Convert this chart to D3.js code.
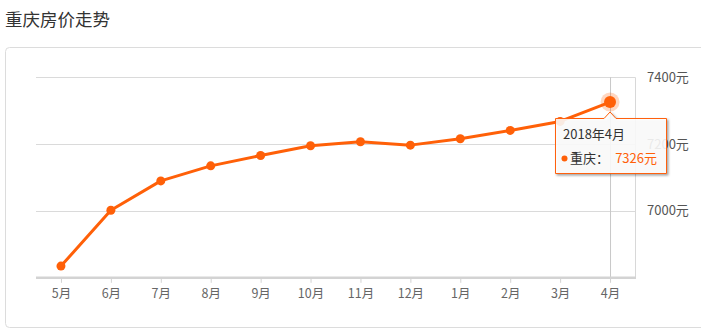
<!DOCTYPE html>
<html>
<head>
<meta charset="utf-8">
<script src="https://cdn.jsdelivr.net/npm/d3@7"></script>
<style>
  body { margin: 0; background: #fff; font-family: "Noto Sans CJK SC", "Microsoft YaHei", sans-serif; }
  svg { display: block; }
</style>
</head>
<body>
<div id="chart"></div>
<script>
'use strict'

// data
const months = ["5月","6月","7月","8月","9月","10月","11月","12月","1月","2月","3月","4月"]
const prices = [6835, 7002, 7090, 7135, 7166, 7195, 7207, 7197, 7216, 7241, 7268, 7326]
const yTicks = [7000, 7200, 7400]
const title = "重庆房价走势"
const city = "重庆"
const tipLabel = "2018年4月"

const W = 701, H = 335
const orange = "#ff6008"

const svg = d3.select("#chart").append("svg")
  .attr("width", W).attr("height", H)

// title
svg.append("text")
  .attr("x", 5).attr("y", 26)
  .attr("font-size", 17.5).attr("fill", "#333")
  .text(title)

// panel
svg.append("rect")
  .attr("x", 5.5).attr("y", 47.5)
  .attr("width", 710).attr("height", 280)
  .attr("rx", 4)
  .attr("fill", "#fff").attr("stroke", "#dcdcdc")

// plot area
const plotLeft = 36, plotRight = 635, plotTop = 77.3, plotBottom = 277.8

const x = d3.scalePoint().domain(months).range([plotLeft, plotRight]).padding(0.5)
const y = d3.scaleLinear().domain([6800, 7400]).range([plotBottom, plotTop])

// grid lines
svg.append("g").selectAll("line")
  .data(yTicks)
  .join("line")
  .attr("x1", plotLeft).attr("x2", plotRight)
  .attr("y1", d => Math.round(y(d)) + 0.5).attr("y2", d => Math.round(y(d)) + 0.5)
  .attr("stroke", "#dadada")

// right border of the plot
svg.append("line")
  .attr("x1", plotRight + 0.5).attr("x2", plotRight + 0.5)
  .attr("y1", plotTop).attr("y2", plotBottom)
  .attr("stroke", "#d8d8d8")

// y labels
svg.append("g").selectAll("text")
  .data(yTicks)
  .join("text")
  .attr("x", 647).attr("y", d => y(d) + 4.5)
  .attr("font-size", 13).attr("fill", "#555")
  .text(d => d + "元")

// crosshair on last point
const last = months.length - 1
svg.append("line")
  .attr("x1", x(months[last]) + 0.5).attr("x2", x(months[last]) + 0.5)
  .attr("y1", plotTop).attr("y2", plotBottom + 4)
  .attr("stroke", "#c8c8c8")

// x axis
const xAxis = svg.append("g")
  .attr("transform", `translate(0,${plotBottom})`)
  .call(d3.axisBottom(x).tickSize(5).tickSizeOuter(0).tickPadding(6))
xAxis.select(".domain").remove()
xAxis.append("line")
  .attr("x1", plotLeft).attr("x2", plotRight + 1)
  .attr("y1", 0).attr("y2", 0)
  .attr("stroke", "#d3d3d3").attr("stroke-width", 2.5)
xAxis.selectAll(".tick line").attr("stroke", "#d3d3d3")
xAxis.selectAll(".tick text")
  .attr("font-size", 12.5).attr("fill", "#666")
  .attr("font-family", "Noto Sans CJK SC, sans-serif")

// line
const line = d3.line()
  .x((d, i) => x(months[i]))
  .y(d => y(d))

svg.append("path")
  .datum(prices)
  .attr("d", line)
  .attr("fill", "none")
  .attr("stroke", orange)
  .attr("stroke-width", 3)
  .attr("stroke-linejoin", "round")

svg.append("g").selectAll("circle")
  .data(prices.slice(0, last))
  .join("circle")
  .attr("cx", (d, i) => x(months[i]))
  .attr("cy", d => y(d))
  .attr("r", 4.5)
  .attr("fill", orange)

// highlighted point
const px = x(months[last]), py = y(prices[last])
svg.append("circle")
  .attr("cx", px).attr("cy", py).attr("r", 9.5)
  .attr("fill", orange).attr("opacity", 0.25)
svg.append("circle")
  .attr("cx", px).attr("cy", py).attr("r", 6)
  .attr("fill", orange)

// tooltip
const tx = 555, ty = 118, tw = 111, th = 55
const defs = svg.append("defs")
const f = defs.append("filter").attr("id", "shadow")
  .attr("x", "-20%").attr("y", "-20%").attr("width", "140%").attr("height", "150%")
f.append("feDropShadow")
  .attr("dx", 1.5).attr("dy", 1.5).attr("stdDeviation", 1.2)
  .attr("flood-color", "#000").attr("flood-opacity", 0.4)

const tip = svg.append("g")
const tipPath = d3.path()
tipPath.moveTo(tx + 0.5, ty + 0.5)
tipPath.lineTo(px - 6, ty + 0.5)
tipPath.lineTo(px, ty - 6)
tipPath.lineTo(px + 6, ty + 0.5)
tipPath.lineTo(tx + tw + 0.5, ty + 0.5)
tipPath.lineTo(tx + tw + 0.5, ty + th + 0.5)
tipPath.lineTo(tx + 0.5, ty + th + 0.5)
tipPath.closePath()
tip.append("path")
  .attr("d", tipPath.toString())
  .attr("fill", "rgba(255,255,255,0.85)")
  .attr("stroke", orange)
  .attr("filter", "url(#shadow)")

tip.append("text")
  .attr("x", tx + 8).attr("y", ty + 21)
  .attr("font-size", 13).attr("fill", "#333")
  .text(tipLabel)
tip.append("circle")
  .attr("cx", tx + 9.5).attr("cy", ty + 40.5).attr("r", 3)
  .attr("fill", orange)
tip.append("text")
  .attr("x", tx + 15).attr("y", ty + 45)
  .attr("font-size", 13).attr("fill", "#333")
  .text(city + "：")
tip.append("text")
  .attr("x", tx + 102).attr("y", ty + 45)
  .attr("text-anchor", "end")
  .attr("font-size", 13).attr("fill", orange)
  .text(prices[last] + "元")
</script>
</body>
</html>
